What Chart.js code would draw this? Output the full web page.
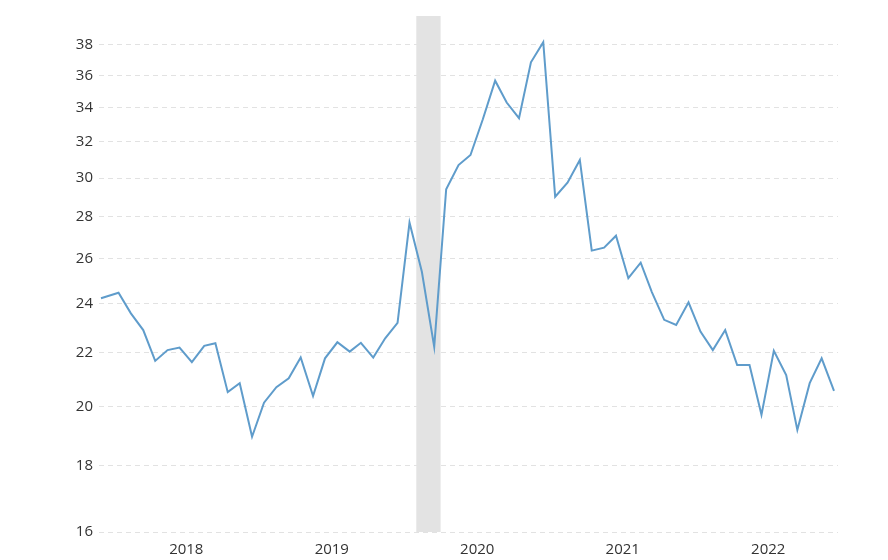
<!DOCTYPE html>
<html>
<head>
<meta charset="utf-8">
<script src="https://cdn.jsdelivr.net/npm/chart.js@4"></script>
<style>
  html, body { margin: 0; padding: 0; background: #fff; }
  #wrap { width: 888px; height: 560px; }
</style>
</head>
<body>
<div id="wrap"><canvas id="c" width="888" height="560"></canvas></div>
<script>
// ---- data ----
const dates = [
  '2017-06-01','2017-07-15','2017-08-15','2017-09-15','2017-10-15','2017-11-15','2017-12-15',
  '2018-01-15','2018-02-15','2018-03-15','2018-04-15','2018-05-15','2018-06-15',
  '2018-07-15','2018-08-15','2018-09-15','2018-10-15','2018-11-15','2018-12-15',
  '2019-01-15','2019-02-15','2019-03-15','2019-04-15','2019-05-15','2019-06-15',
  '2019-07-15','2019-08-15','2019-09-15','2019-10-15','2019-11-15','2019-12-15',
  '2020-01-15','2020-02-15','2020-03-15','2020-04-15','2020-05-15','2020-06-15',
  '2020-07-15','2020-08-15','2020-09-15','2020-10-15','2020-11-15','2020-12-15',
  '2021-01-15','2021-02-15','2021-03-15','2021-04-15','2021-05-15','2021-06-15',
  '2021-07-15','2021-08-15','2021-09-15','2021-10-15','2021-11-15','2021-12-15',
  '2022-01-15','2022-02-15','2022-03-15','2022-04-15','2022-05-15','2022-06-15'
];
const peRatio = [
  24.23, 24.47, 23.59, 22.90, 21.68, 22.10, 22.20,
  21.63, 22.27, 22.37, 20.51, 20.84, 18.95,
  20.13, 20.69, 21.02, 21.81, 20.37, 21.78,
  22.41, 22.04, 22.39, 21.81, 22.57, 23.20,
  27.72, 25.40, 22.23, 29.41, 30.70, 31.25,
  33.30, 35.66, 34.30, 33.36, 36.84, 38.18,
  29.02, 29.75, 30.98, 26.37, 26.51, 27.08,
  25.11, 25.81, 24.50, 23.32, 23.11, 24.06,
  22.84, 22.10, 22.90, 21.52, 21.52, 19.70,
  22.07, 21.14, 19.18, 20.84, 21.78, 20.56
];
const yTicks = [16, 18, 20, 22, 24, 26, 28, 30, 32, 34, 36, 38];
const yearTicks = [2018, 2019, 2020, 2021, 2022];
const shadedRange = ['2019-08-01', '2019-10-01'];
const xRange = ['2017-05-27', '2022-06-25'];

// decimal year from ISO date string
function toYear(s) {
  const [y, m, d] = s.split('-').map(Number);
  const start = Date.UTC(y, 0, 1), end = Date.UTC(y + 1, 0, 1);
  return y + (Date.UTC(y, m - 1, d) - start) / (end - start);
}

const points = dates.map((d, i) => ({ x: toYear(d), y: peRatio[i] }));

const bandPlugin = {
  id: 'band',
  beforeDatasetsDraw(chart) {
    const { ctx, chartArea, scales } = chart;
    const x0 = scales.x.getPixelForValue(toYear(shadedRange[0]));
    const x1 = scales.x.getPixelForValue(toYear(shadedRange[1]));
    ctx.save();
    ctx.fillStyle = '#e3e3e3';
    ctx.fillRect(x0, chartArea.top, x1 - x0, chartArea.bottom - chartArea.top);
    ctx.restore();
  }
};

new Chart(document.getElementById('c'), {
  type: 'line',
  data: {
    datasets: [{
      data: points,
      borderColor: '#5f9ccb',
      borderWidth: 2,
      pointRadius: 0,
      tension: 0,
      fill: false
    }]
  },
  options: {
    responsive: false,
    animation: false,
    devicePixelRatio: 1,
    layout: { padding: { top: 16, right: 50, left: 0, bottom: 0 } },
    plugins: { legend: { display: false }, tooltip: { enabled: false } },
    scales: {
      x: {
        type: 'linear',
        min: toYear(xRange[0]),
        max: toYear(xRange[1]),
        afterBuildTicks(scale) { scale.ticks = yearTicks.map(v => ({ value: v })); },
        afterFit(scale) { scale.height = 28; },
        grid: { display: false, drawTicks: false },
        border: { display: false },
        ticks: {
          padding: 9,
          maxRotation: 0,
          autoSkip: false,
          color: '#333',
          font: { family: 'Open Sans', size: 15 },
          callback: v => String(v)
        }
      },
      y: {
        type: 'logarithmic',
        min: 16,
        max: 40,
        afterBuildTicks(scale) { scale.ticks = yTicks.map(v => ({ value: v })); },
        afterFit(scale) { scale.width = 99; },
        grid: { color: '#e2e2e2', lineWidth: 1, drawTicks: false },
        border: { display: false, dash: [5, 4] },
        ticks: {
          padding: 6,
          autoSkip: false,
          color: '#333',
          font: { family: 'Open Sans', size: 15 },
          callback: v => String(v)
        }
      }
    }
  },
  plugins: [bandPlugin]
});
</script>
</body>
</html>
